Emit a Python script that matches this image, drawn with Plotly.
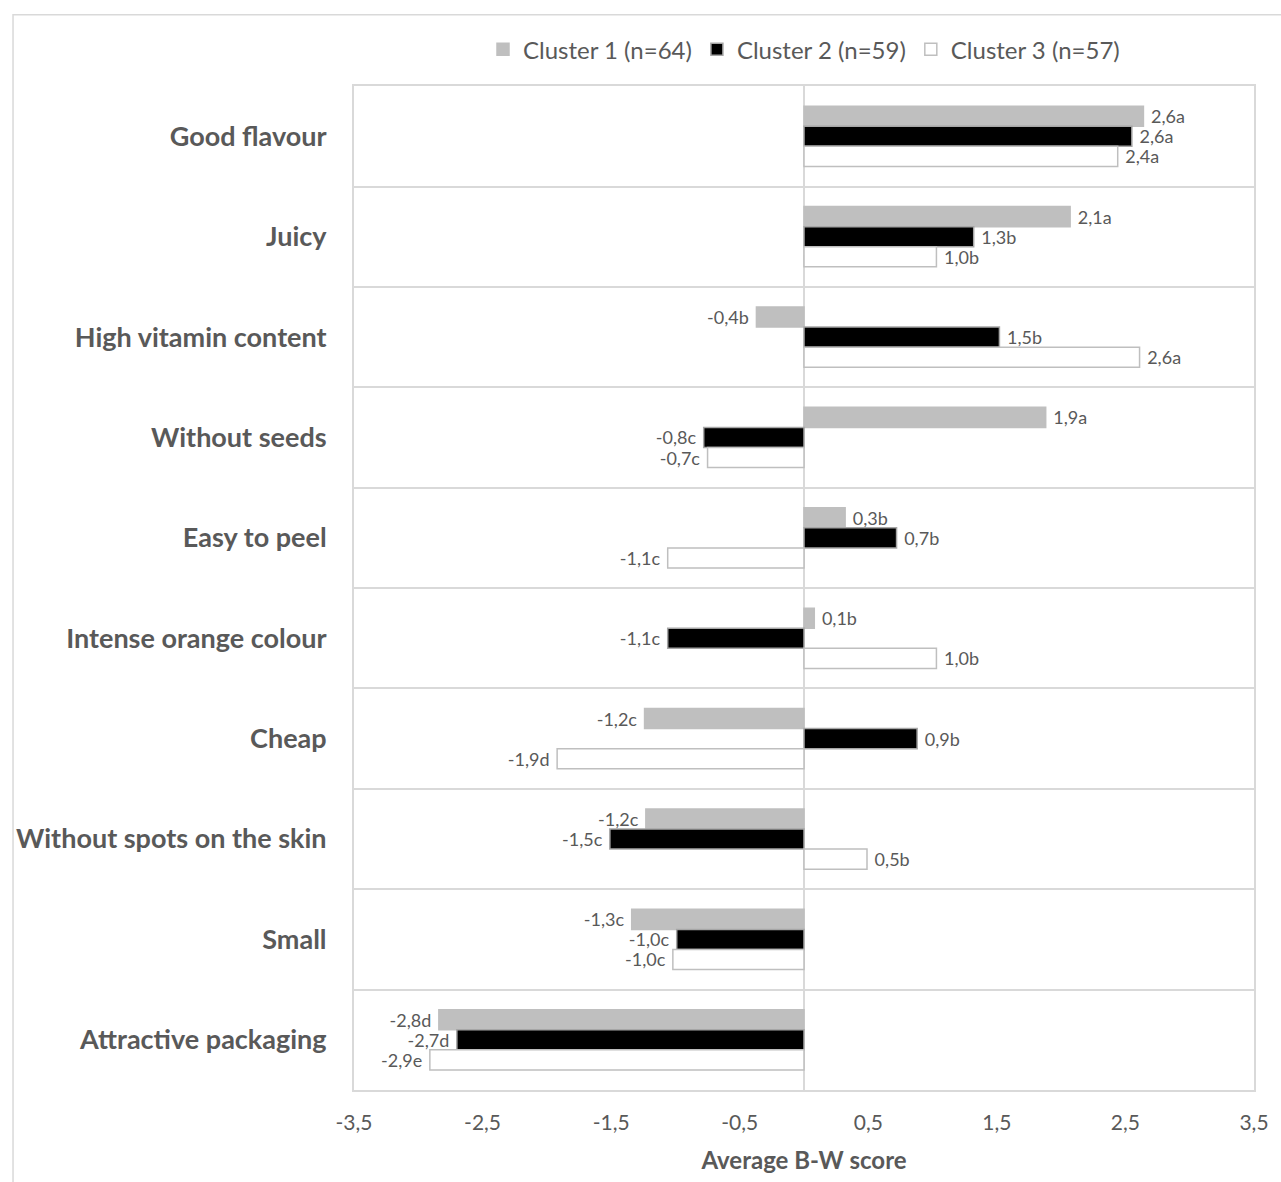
import plotly.graph_objects as go

categories = ["Good flavour", "Juicy", "High vitamin content", "Without seeds", "Easy to peel",
              "Intense orange colour", "Cheap", "Without spots on the skin", "Small", "Attractive packaging"]
series_names = ["Cluster 1 (n=64)", "Cluster 2 (n=59)", "Cluster 3 (n=57)"]
cluster1 = [2.64, 2.07, -0.37, 1.88, 0.32, 0.08, -1.24, -1.23, -1.34, -2.84]
cluster2 = [2.55, 1.32, 1.52, -0.78, 0.72, -1.06, 0.88, -1.51, -0.99, -2.70]
cluster3 = [2.44, 1.03, 2.61, -0.75, -1.06, 1.03, -1.92, 0.49, -1.02, -2.91]
labels1 = ["2,6a", "2,1a", "-0,4b", "1,9a", "0,3b", "0,1b", "-1,2c", "-1,2c", "-1,3c", "-2,8d"]
labels2 = ["2,6a", "1,3b", "1,5b", "-0,8c", "0,7b", "-1,1c", "0,9b", "-1,5c", "-1,0c", "-2,7d"]
labels3 = ["2,4a", "1,0b", "2,6a", "-0,7c", "-1,1c", "1,0b", "-1,9d", "0,5b", "-1,0c", "-2,9e"]
tick_vals = [-3.5, -2.5, -1.5, -0.5, 0.5, 1.5, 2.5, 3.5]
tick_text = ["-3,5", "-2,5", "-1,5", "-0,5", "0,5", "1,5", "2,5", "3,5"]

fills = ["#bfbfbf", "#000000", "#ffffff"]
lines = ["#bfbfbf", "#a6a6a6", "#bfbfbf"]
txt = "#595959"
font = "Lato"

W, H = 1281, 1182
ML, MR, MT, MB = 354, 19, 84, 85
PW, PH = W - ML - MR, H - MT - MB

fig = go.Figure()
for name, vals, labs, fc, lc in zip(series_names, [cluster1, cluster2, cluster3],
                                     [labels1, labels2, labels3], fills, lines):
    padded = [(" " + l) if v >= 0 else (l + " ") for l, v in zip(labs, vals)]
    fig.add_trace(go.Bar(
        y=categories, x=vals, name=name, orientation="h",
        marker=dict(color=fc, line=dict(color=lc, width=1.5)),
        text=padded, textposition="outside", cliponaxis=False,
        textfont=dict(family=font, size=18, color=txt),
    ))

fig.update_layout(
    width=W, height=H,
    barmode="group", bargap=0.4, bargroupgap=0,
    plot_bgcolor="white", paper_bgcolor="white",
    margin=dict(l=ML, r=MR, t=MT, b=MB),
    font=dict(family=font, color=txt),
    legend=dict(orientation="h", x=0.5, xanchor="center", yref="container", y=0.958, yanchor="middle",
                font=dict(family=font, size=24, color=txt), traceorder="normal"),
    xaxis=dict(range=[-3.5, 3.5], tickvals=tick_vals, ticktext=tick_text,
               showgrid=False, zeroline=True, zerolinecolor="#d9d9d9", zerolinewidth=2,
               showline=True, linecolor="#d9d9d9", linewidth=2, mirror=True,
               tickfont=dict(family=font, size=21, color=txt), ticks="",
               ticklabelstandoff=13,
               title=dict(text="<b>Average B-W score</b>", font=dict(family=font, size=24, color=txt), standoff=19)),
    yaxis=dict(type="category", autorange="reversed", tickson="boundaries",
               showgrid=True, gridcolor="#d9d9d9", gridwidth=2,
               showline=True, linecolor="#d9d9d9", linewidth=2, mirror=True,
               ticks="", ticklabelstandoff=20,
               tickfont=dict(family=font, size=27, color=txt, weight="bold")),
    shapes=[dict(type="rect", xref="paper", yref="paper",
                 x0=-(ML - 10) / PW, x1=1 + (MR + 10) / PW,
                 y0=-(MB + 10) / PH, y1=1 + (MT - 12) / PH,
                 line=dict(color="#d9d9d9", width=1.5), layer="below")],
)
fig.update_traces(textangle=0, constraintext="none")

fig.write_html("out.html", config={"displayModeBar": False},
               post_script="document.body.style.margin='0';document.body.style.overflow='hidden';")
